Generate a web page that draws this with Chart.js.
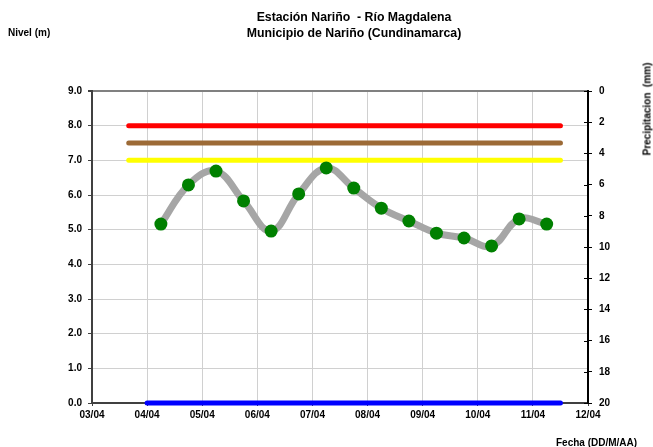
<!DOCTYPE html>
<html>
<head>
<meta charset="utf-8">
<script src="https://cdn.jsdelivr.net/npm/chart.js@4.4.1/dist/chart.umd.min.js"></script>
<style>
  html, body { margin: 0; padding: 0; background: #fff; }
  #wrap { position: relative; width: 653px; height: 447px; overflow: hidden; font-family: "Liberation Sans", Arial, sans-serif; font-weight: bold; color: #000; }
  #c { position: absolute; left: 0; top: 0; }
  .t { position: absolute; white-space: nowrap; }
  #title { left: 0; width: 708px; top: 9px; text-align: center; font-size: 12.3px; line-height: 16px; }
  #ylab { left: 8px; top: 27px; font-size: 10px; }
  #y2lab { left: 647px; top: 109px; font-size: 10px; color: #000; transform: translate(-50%, -50%) rotate(-90deg); }
  #xlab { left: 556px; top: 437px; font-size: 10px; }
</style>
</head>
<body>
<div id="wrap">
  <canvas id="c" width="653" height="447"></canvas>
  <div class="t" id="title">Estación Nariño&nbsp; - Río Magdalena<br>Municipio de Nariño (Cundinamarca)</div>
  <div class="t" id="ylab">Nivel (m)</div>
  <div class="t" id="y2lab">Precipitacion&nbsp; (mm)</div>
  <div class="t" id="xlab">Fecha (DD/M/AA)</div>
</div>
<script>
// ---- data ----
const xTickLabels = ["03/04","04/04","05/04","06/04","07/04","08/04","09/04","10/04","11/04","12/04"];
const levelTimes = ["04/04 06:00","04/04 18:00","05/04 06:00","05/04 18:00","06/04 06:00","06/04 18:00",
                    "07/04 06:00","07/04 18:00","08/04 06:00","08/04 18:00","09/04 06:00","09/04 18:00",
                    "10/04 06:00","10/04 18:00","11/04 06:00"];
const levelValues = [5.16, 6.29, 6.69, 5.83, 4.96, 6.03, 6.78, 6.20, 5.62, 5.25, 4.90, 4.76, 4.53, 5.31, 5.16];
const alertNames = ["Alerta roja","Alerta naranja","Alerta amarilla"];
const alertValues = [8.0, 7.5, 7.0];
const alertSpan = ["03/04 16:00","11/04 12:00"];
const baseSpan = ["04/04 00:00","11/04 12:00"];
const baseValue = 0.0;
const yTicksLeft = [0,1,2,3,4,5,6,7,8,9];
const yTicksRight = [0,2,4,6,8,10,12,14,16,18,20];

// convert "DD/MM HH:mm" to days after 03/04 00:00
function toDays(s) {
  const [d, t] = s.split(" ");
  const day = parseInt(d.split("/")[0], 10);
  const [hh, mm] = t.split(":").map(Number);
  return (day - 3) + hh / 24 + mm / 1440;
}

const alertColors = ["#FF0000", "#9C6A36", "#FFFF00"];
const datasets = [];
alertValues.forEach((v, i) => {
  datasets.push({
    label: alertNames[i],
    data: alertSpan.map(s => ({x: toDays(s), y: v})),
    borderColor: alertColors[i], borderWidth: 5, borderCapStyle: "round",
    pointRadius: 0, yAxisID: "y", clip: false, order: 3
  });
});
datasets.push({
  label: "Base",
  data: baseSpan.map(s => ({x: toDays(s), y: baseValue})),
  borderColor: "#0000FF", borderWidth: 5, borderCapStyle: "round",
  pointRadius: 0, yAxisID: "y", clip: false, order: 3
});
datasets.push({
  label: "Nivel",
  data: levelTimes.map((s, i) => ({x: toDays(s), y: levelValues[i]})),
  borderColor: "#A6A6A6", borderWidth: 7, tension: 0.4, borderCapStyle: "round",
  pointRadius: 6.5, pointBackgroundColor: "#008000", pointBorderColor: "#008000", pointBorderWidth: 0,
  yAxisID: "y", clip: false, order: 1
});

const tickFont = {family: "'Liberation Sans', Arial, sans-serif", size: 10, weight: "bold"};

const innerTicks = {
  id: "innerTicks",
  afterDraw(chart) {
    const ctx = chart.ctx, s = chart.scales.y2;
    ctx.save();
    ctx.strokeStyle = "#000"; ctx.lineWidth = 1;
    yTicksRight.forEach(v => {
      const y = Math.round(s.getPixelForValue(v)) + 0.5;
      ctx.beginPath(); ctx.moveTo(s.left - 4, y); ctx.lineTo(s.left, y); ctx.stroke();
    });
    ctx.restore();
  }
};

new Chart(document.getElementById("c"), {
  type: "line",
  data: { datasets },
  plugins: [innerTicks],
  options: {
    responsive: false, animation: false, devicePixelRatio: 1,
    layout: { padding: { top: 91, left: 0, right: 0, bottom: 0 } },
    plugins: { legend: { display: false }, tooltip: { enabled: false }, title: { display: false } },
    scales: {
      x: {
        type: "linear", min: 0, max: 9,
        afterBuildTicks: s => { s.ticks = xTickLabels.map((_, i) => ({value: i})); },
        ticks: { callback: (v) => xTickLabels[v] ?? "", font: tickFont, color: "#000", padding: 3, maxRotation: 0, autoSkip: false },
        grid: { color: "#D0D0D0", lineWidth: 1, tickLength: 3, tickColor: "#404040" },
        border: { color: "#404040", width: 2 },
        afterFit: s => { s.height = 44; }
      },
      y: {
        position: "left", min: 0, max: 9,
        afterBuildTicks: s => { s.ticks = yTicksLeft.map(v => ({value: v})); },
        ticks: { callback: v => v.toFixed(1), font: tickFont, color: "#000", padding: 6 },
        grid: {
          color: c => c.tick && c.tick.value === 9 ? "#808080" : "#D0D0D0",
          lineWidth: c => c.tick && c.tick.value === 9 ? 2 : 1,
          tickLength: 4, tickColor: "#404040"
        },
        border: { color: "#404040", width: 2 },
        afterFit: s => { s.width = 92; }
      },
      y2: {
        position: "right", min: 0, max: 20, reverse: true,
        afterBuildTicks: s => { s.ticks = yTicksRight.map(v => ({value: v})); },
        ticks: { font: tickFont, color: "#000", padding: 7 },
        grid: { drawOnChartArea: false, tickLength: 4, tickColor: "#000" },
        border: { color: "#000", width: 2 },
        afterFit: s => { s.width = 65; }
      }
    }
  }
});
</script>
</body>
</html>
